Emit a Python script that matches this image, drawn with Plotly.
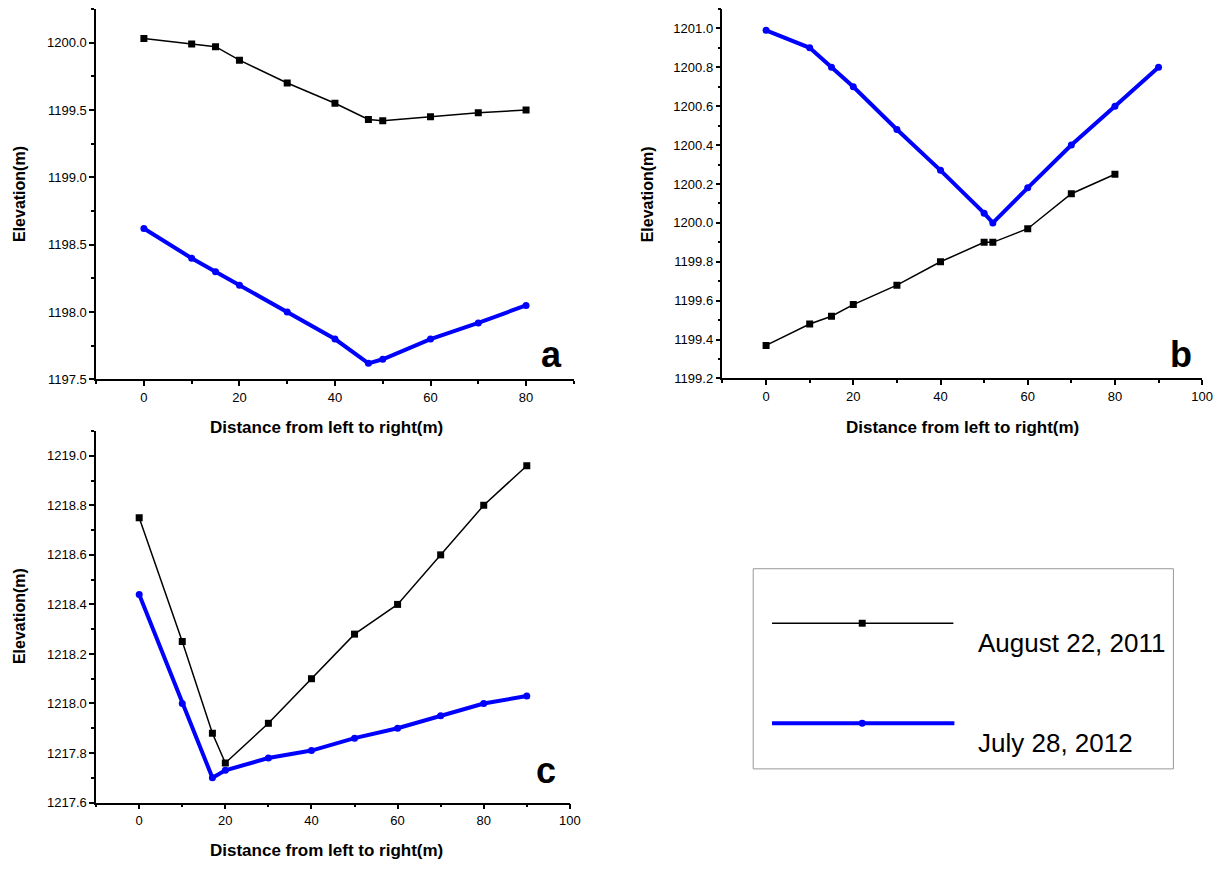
import plotly.graph_objects as go

W, H = 1230, 872

# ---------------- data ----------------
a_x_2011 = [0, 10, 15, 20, 30, 40, 47, 50, 60, 70, 80]
a_y_2011 = [1200.03, 1199.99, 1199.97, 1199.87, 1199.70, 1199.55, 1199.43, 1199.42, 1199.45, 1199.48, 1199.50]
a_x_2012 = [0, 10, 15, 20, 30, 40, 47, 50, 60, 70, 80]
a_y_2012 = [1198.62, 1198.40, 1198.30, 1198.20, 1198.00, 1197.80, 1197.62, 1197.65, 1197.80, 1197.92, 1198.05]

b_x_2011 = [0, 10, 15, 20, 30, 40, 50, 52, 60, 70, 80]
b_y_2011 = [1199.37, 1199.48, 1199.52, 1199.58, 1199.68, 1199.80, 1199.90, 1199.90, 1199.97, 1200.15, 1200.25]
b_x_2012 = [0, 10, 15, 20, 30, 40, 50, 52, 60, 70, 80, 90]
b_y_2012 = [1200.99, 1200.90, 1200.80, 1200.70, 1200.48, 1200.27, 1200.05, 1200.00, 1200.18, 1200.40, 1200.60, 1200.80]

c_x_2011 = [0, 10, 17, 20, 30, 40, 50, 60, 70, 80, 90]
c_y_2011 = [1218.75, 1218.25, 1217.88, 1217.76, 1217.92, 1218.10, 1218.28, 1218.40, 1218.60, 1218.80, 1218.96]
c_x_2012 = [0, 10, 17, 20, 30, 40, 50, 60, 70, 80, 90]
c_y_2012 = [1218.44, 1218.00, 1217.70, 1217.73, 1217.78, 1217.81, 1217.86, 1217.90, 1217.95, 1218.00, 1218.03]

series_names = ["August 22, 2011", "July 28, 2012"]
panel_labels = ["a", "b", "c"]
x_title = "Distance from left to right(m)"
y_title = "Elevation(m)"

FONT = "Liberation Sans, Arial, sans-serif"


def px(x):
    return x / W


def py(y):
    return 1 - y / H


fig = go.Figure()

panels = [
    ("x", "y", a_x_2011, a_y_2011, a_x_2012, a_y_2012),
    ("x2", "y2", b_x_2011, b_y_2011, b_x_2012, b_y_2012),
    ("x3", "y3", c_x_2011, c_y_2011, c_x_2012, c_y_2012),
]
for xa, ya, x1, y1, x2, y2 in panels:
    fig.add_trace(go.Scatter(x=x1, y=y1, xaxis=xa, yaxis=ya, mode="lines+markers",
                             name=series_names[0], showlegend=False,
                             line=dict(color="black", width=1.5),
                             marker=dict(symbol="square", size=7, color="black")))
    fig.add_trace(go.Scatter(x=x2, y=y2, xaxis=xa, yaxis=ya, mode="lines+markers",
                             name=series_names[1], showlegend=False,
                             line=dict(color="#0000ff", width=4),
                             marker=dict(symbol="circle", size=7, color="#0000ff")))


def xaxis(domain, rng, anchor):
    return dict(domain=domain, range=rng, anchor=anchor, showgrid=False, zeroline=False,
                showline=True, linecolor="black", linewidth=1.5,
                ticks="outside", ticklen=5, tickwidth=1.5, tickcolor="black",
                tick0=0, dtick=20,
                minor=dict(ticks="outside", ticklen=3, tickwidth=1.5, tickcolor="black", dtick=10, tick0=0),
                tickfont=dict(family=FONT, size=13, color="black"))


def yaxis(domain, rng, anchor, dt, mdt):
    return dict(domain=domain, range=rng, anchor=anchor, showgrid=False, zeroline=False,
                showline=True, linecolor="black", linewidth=1.5,
                ticks="outside", ticklen=5, tickwidth=1.5, tickcolor="black",
                tick0=rng[0], dtick=dt, tickformat=".1f",
                minor=dict(ticks="outside", ticklen=3, tickwidth=1.5, tickcolor="black", dtick=mdt, tick0=rng[0]),
                tickfont=dict(family=FONT, size=13, color="black"))


# pixel boxes of the three plot areas
A = (97, 579, 9, 383)
B = (729, 1213, 9, 382)
C = (97, 575, 435, 810)

fig.update_layout(
    width=W, height=H, margin=dict(l=0, r=0, t=0, b=0),
    paper_bgcolor="white", plot_bgcolor="white", showlegend=False,
    xaxis=xaxis([px(A[0]), px(A[1])], [-10, 90], "y"),
    yaxis=yaxis([py(A[3]), py(A[2])], [1197.5, 1200.25], "x", 0.5, 0.25),
    xaxis2=xaxis([px(B[0]), px(B[1])], [-10, 100], "y2"),
    yaxis2=yaxis([py(B[3]), py(B[2])], [1199.2, 1201.1], "x2", 0.2, 0.1),
    xaxis3=xaxis([px(C[0]), px(C[1])], [-10, 100], "y3"),
    yaxis3=yaxis([py(C[3]), py(C[2])], [1217.6, 1219.1], "x3", 0.2, 0.1),
)

ann = []
# axis titles
for cx, cy in [(329, 431), (971, 431), (329, 858)]:
    ann.append(dict(x=px(cx), y=py(cy), xref="paper", yref="paper", text=x_title, showarrow=False,
                    xanchor="center", yanchor="middle",
                    font=dict(family=FONT, size=17, color="black", weight="bold")))
for cx, cy in [(19, 196), (653, 196), (19, 622)]:
    ann.append(dict(x=px(cx), y=py(cy), xref="paper", yref="paper", text=y_title, showarrow=False,
                    textangle=-90, xanchor="center", yanchor="middle",
                    font=dict(family=FONT, size=16, color="black", weight="bold")))
# panel letters
for lab, cx, cy in zip(panel_labels, [556, 1192, 551], [358, 358, 778]):
    ann.append(dict(x=px(cx), y=py(cy), xref="paper", yref="paper", text=lab, showarrow=False,
                    xanchor="center", yanchor="middle",
                    font=dict(family=FONT, size=36, color="black", weight="bold")))

# legend
shapes = []
shapes.append(dict(type="rect", xref="paper", yref="paper", x0=px(760), x1=px(1184), y0=py(776), y1=py(574),
                   line=dict(color="#999999", width=1), fillcolor="rgba(0,0,0,0)"))
shapes.append(dict(type="line", xref="paper", yref="paper", x0=px(779), x1=px(962), y0=py(629), y1=py(629),
                   line=dict(color="black", width=1.5)))
shapes.append(dict(type="rect", xref="paper", yref="paper", x0=px(866.5), x1=px(873.5), y0=py(632.5), y1=py(625.5),
                   line=dict(width=0), fillcolor="black"))
shapes.append(dict(type="line", xref="paper", yref="paper", x0=px(779), x1=px(963), y0=py(730), y1=py(730),
                   line=dict(color="#0000ff", width=4)))
shapes.append(dict(type="circle", xref="paper", yref="paper", x0=px(866.5), x1=px(873.5), y0=py(733.5), y1=py(726.5),
                   line=dict(width=0), fillcolor="#0000ff"))
for name, cy in zip(series_names, [649, 750]):
    ann.append(dict(x=px(985), y=py(cy), xref="paper", yref="paper", text=name, showarrow=False,
                    xanchor="left", yanchor="middle",
                    font=dict(family=FONT, size=26, color="black")))

fig.update_layout(annotations=ann, shapes=shapes)
fig.write_html("out.html")
